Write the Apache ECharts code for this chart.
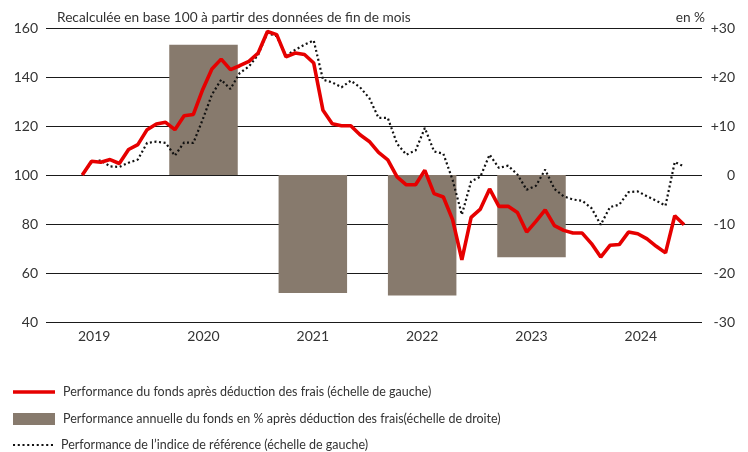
<!DOCTYPE html>
<html>
<head>
<meta charset="utf-8">
<script src="https://cdn.jsdelivr.net/npm/echarts@6/dist/echarts.min.js"></script>
<style>
html,body{margin:0;padding:0;background:#fff;}
#chart{width:748px;height:452px;}
</style>
</head>
<body>
<div id="chart"></div>
<script type="text/javascript">
// annees (axe du bas) et performance annuelle en % (echelle de droite)
var years = ['2019', '2020', '2021', '2022', '2023', '2024'];
var annualPerf = [null, 26.6, -24.1, -24.6, -16.8, null];

// valeurs mensuelles base 100 (echelle de gauche)
var fundLine = [100, 105.6, 105.2, 106.3, 104.7, 110.4, 112.4, 118.5, 120.8, 121.5,
    118.5, 124.2, 124.7, 134.8, 143.3, 147.3, 143, 144.6, 146.4, 149.8,
    158.6, 157.3, 148.2, 149.8, 149.2, 145.7, 126.4, 120.9, 120.1, 120.1,
    116.4, 113.7, 109.2, 106.2, 99.2, 96, 96, 101.9, 92.4, 91,
    81.8, 65.4, 82.7, 86.1, 94.3, 87.2, 87.2, 84.7, 76.7, 81.1,
    85.8, 79.3, 77.4, 76.3, 76.3, 72, 66.5, 71.3, 71.6, 76.7,
    76, 73.9, 70.9, 68.2, 83.4, 79.7];
var indexLine = [100, 105.2, 106, 103.5, 103.3, 105, 106.3, 113.1, 113.6, 113.1,
    107.9, 113.3, 113.1, 122.6, 132.8, 138.9, 135.1, 141.6, 144.3, 149.1,
    158, 156.6, 148.7, 151.1, 153.2, 154.9, 138.9, 137.8, 135.8, 138.5,
    135.8, 131.4, 123.3, 123.3, 112.8, 108.3, 110, 119.2, 109.6, 108.7,
    98, 83.8, 97.4, 99.3, 108.3, 102.9, 103.8, 100.2, 94, 95.6,
    102.2, 94.3, 91.3, 90, 89.5, 86.5, 79.7, 86.9, 87.9, 93,
    93.3, 91.3, 89.5, 87.5, 105.3, 103.5];

var names = [
    'Performance du fonds après déduction des frais (échelle de gauche)',
    'Performance annuelle du fonds en % après déduction des frais(échelle de droite)',
    'Performance de l\u2019indice de référence (échelle de gauche)'
];

function toPairs(arr) {
    var out = [];
    for (var i = 0; i < arr.length; i++) out.push([i, arr[i]]);
    return out;
}

var txt = '#333';
var font = 'Lato, "Liberation Sans", sans-serif';

// petits carres pour l'icone pointillee
var dots = 'path://';
for (var d = 0; d < 9; d++) dots += 'M' + (d * 4.6) + ' 0h2v2h-2z';

function legendRow(name, top, icon, h, w) {
    return {
        orient: 'horizontal', left: 8, top: top, itemWidth: w, itemHeight: h,
        selectedMode: false, icon: icon, data: [name],
        textStyle: { fontSize: 12.5, lineHeight: 18, color: txt, fontFamily: font, padding: [0, 0, 0, 3] }
    };
}

var chart = echarts.init(document.getElementById('chart'));
var option = {
    animation: false,
    title: [
        { text: 'Recalculée en base 100 à partir des données de fin de mois', left: 52, top: 6,
          textStyle: { fontSize: 13.7, fontWeight: 'normal', color: txt, fontFamily: font } },
        { text: 'en %', right: 38, top: 6,
          textStyle: { fontSize: 13.7, fontWeight: 'normal', color: txt, fontFamily: font } }
    ],
    grid: [
        { left: 46, right: 46, top: 28, bottom: 130 },
        { left: 39.5, right: 52.5, top: 28, bottom: 130 }
    ],
    legend: [
        legendRow(names[0], 378, 'rect', 3.5, 42),
        legendRow(names[1], 405, 'rect', 12, 42),
        legendRow(names[2], 431, dots, 2.5, 40)
    ],
    xAxis: [
        { type: 'value', gridIndex: 0, min: -3.92, max: 66.94, show: false },
        { type: 'category', gridIndex: 1, data: years,
          axisLine: { show: false }, axisTick: { show: false },
          axisLabel: { fontSize: 14, color: txt, fontFamily: font, margin: 7 } }
    ],
    yAxis: [
        { type: 'value', gridIndex: 0, min: 40, max: 160, interval: 20, position: 'left',
          axisLine: { show: false }, axisTick: { show: false },
          axisLabel: { fontSize: 14, color: txt, fontFamily: font, margin: 8 },
          splitLine: { lineStyle: { color: '#1a1a1a', width: 1.2 } } },
        { type: 'value', gridIndex: 0, min: -30, max: 30, interval: 10, position: 'right',
          axisLine: { show: false }, axisTick: { show: false },
          axisLabel: { fontSize: 14, color: txt, fontFamily: font, margin: 33, align: 'right',
            formatter: function (v) { return v > 0 ? '+' + v : '' + v; } },
          splitLine: { show: false } },
        { type: 'value', gridIndex: 1, min: -30, max: 30, show: false, splitLine: { show: false } }
    ],
    series: [
        { name: names[1], type: 'bar', xAxisIndex: 1, yAxisIndex: 2, barWidth: 68.5,
          itemStyle: { color: '#877a6d' }, data: annualPerf, z: 1 },
        { name: names[2], type: 'line', xAxisIndex: 0, yAxisIndex: 0, symbol: 'none',
          lineStyle: { color: '#111', width: 2.2, type: [2, 2.6] }, itemStyle: { color: '#111' },
          data: toPairs(indexLine), z: 3 },
        { name: names[0], type: 'line', xAxisIndex: 0, yAxisIndex: 0, symbol: 'none',
          lineStyle: { color: '#e60000', width: 3.6 }, itemStyle: { color: '#e60000' },
          data: toPairs(fundLine), z: 4 }
    ]
};
chart.setOption(option);
</script>
</body>
</html>
